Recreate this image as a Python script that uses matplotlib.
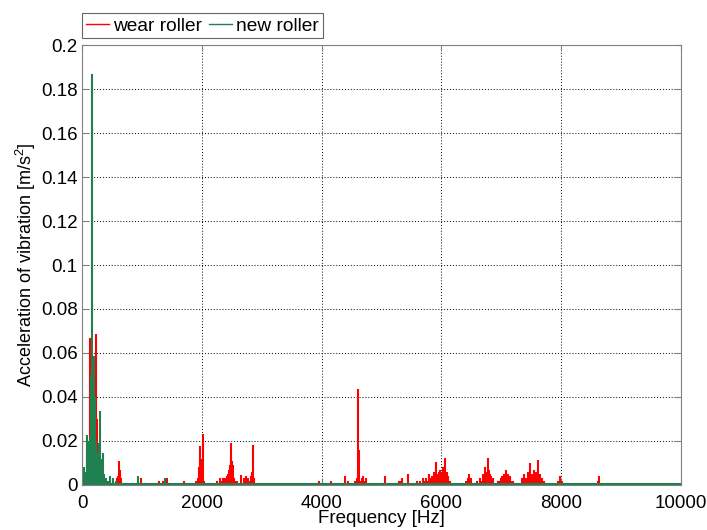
"""Vibration spectrum: wear roller vs new roller."""

import matplotlib

matplotlib.use("Agg")
import matplotlib.pyplot as plt
from matplotlib.ticker import FormatStrFormatter

# wear roller spectrum peaks (Hz, m/s^2)
wear_freq = [
    100, 120, 133, 150, 170, 185, 200, 215, 228, 245, 260, 280,
    585, 600, 617, 633, 650, 700, 980, 1100, 1200, 1280, 1350, 1380, 1400,
    1420, 1450, 1700, 1750,
    1880, 1900, 1920, 1940, 1960, 1972, 1985, 2000, 2015, 2028, 2045, 2070, 2100,
    2200, 2250, 2280, 2300, 2330, 2360, 2380, 2400, 2420, 2440, 2455, 2470, 2480,
    2494, 2505, 2515, 2525, 2540, 2560, 2580, 2620, 2650, 2700, 2720, 2740, 2760,
    2780, 2800, 2820, 2835, 2850, 2870, 2900,
    3100, 3300, 3500, 3950, 4000, 4150, 4250, 4390, 4450, 4530, 4560, 4590, 4600,
    4612, 4625, 4650, 4680, 4700, 4720, 4750, 4800, 4900, 5000, 5060,
    5150, 5300, 5330, 5350, 5420, 5450, 5500, 5600, 5650, 5700, 5730, 5750, 5780,
    5800, 5830, 5850, 5880, 5900, 5912, 5925, 5940, 5955, 5970, 5985, 6000, 6015,
    6030, 6045, 6062, 6075, 6090, 6105, 6120, 6150, 6180, 6250,
    6400, 6420, 6445, 6467, 6485, 6500, 6550, 6600, 6630, 6650, 6680, 6700, 6715,
    6730, 6745, 6760, 6783, 6800, 6815, 6830, 6860, 6900, 6950, 6980, 7000, 7020,
    7040, 7060, 7078, 7095, 7110, 7130, 7150, 7175, 7200,
    7300, 7350, 7380, 7400, 7420, 7450, 7465, 7483, 7495, 7510, 7530, 7550, 7565,
    7580, 7600, 7617, 7630, 7640, 7660, 7680, 7720, 7760, 7800, 7900, 7950, 7990,
    8020, 8100,
    8300, 8400, 8600, 8620, 8635, 8660, 9000, 9400,
]
wear_amp = [
    0.005, 0.010, 0.067, 0.016, 0.004, 0.006, 0.020, 0.012, 0.0687, 0.030, 0.010, 0.004,
    0.003, 0.004, 0.011, 0.007, 0.003, 0.001, 0.003, 0.001, 0.001, 0.002, 0.002, 0.002, 0.002,
    0.003, 0.001, 0.002, 0.001,
    0.001, 0.002, 0.002, 0.003, 0.008, 0.0179, 0.012, 0.003, 0.002, 0.0232, 0.002, 0.001, 0.001,
    0.001, 0.002, 0.001, 0.003, 0.002, 0.003, 0.003, 0.002, 0.004, 0.005, 0.007, 0.009, 0.011,
    0.0189, 0.011, 0.009, 0.006, 0.003, 0.002, 0.002, 0.001, 0.0047, 0.003, 0.002, 0.004, 0.002,
    0.003, 0.002, 0.004, 0.006, 0.0182, 0.003, 0.001,
    0.001, 0.001, 0.0005, 0.002, 0.001, 0.002, 0.001, 0.004, 0.002, 0.001, 0.002, 0.001, 0.003,
    0.0437, 0.016, 0.002, 0.003, 0.004, 0.002, 0.003, 0.001, 0.001, 0.001, 0.004,
    0.001, 0.002, 0.002, 0.003, 0.001, 0.005, 0.001, 0.002, 0.002, 0.003, 0.002, 0.003, 0.002,
    0.005, 0.003, 0.004, 0.006, 0.004, 0.0105, 0.004, 0.005, 0.006, 0.007, 0.004, 0.006, 0.005,
    0.008, 0.005, 0.0124, 0.004, 0.006, 0.003, 0.004, 0.002, 0.001, 0.001,
    0.001, 0.002, 0.003, 0.0048, 0.003, 0.003, 0.001, 0.002, 0.001, 0.003, 0.002, 0.005, 0.004,
    0.008, 0.005, 0.006, 0.0124, 0.007, 0.005, 0.004, 0.003, 0.001, 0.002, 0.002, 0.003, 0.004,
    0.005, 0.004, 0.007, 0.004, 0.005, 0.003, 0.004, 0.002, 0.002,
    0.001, 0.003, 0.005, 0.002, 0.003, 0.006, 0.004, 0.0098, 0.004, 0.005, 0.003, 0.007, 0.004,
    0.006, 0.004, 0.0114, 0.004, 0.005, 0.003, 0.003, 0.002, 0.001, 0.001, 0.001, 0.002, 0.0041,
    0.002, 0.001,
    0.0005, 0.0005, 0.001, 0.002, 0.0039, 0.001, 0.0003, 0.0003,
]

# new roller spectrum peaks (Hz, m/s^2)
new_freq = [
    0, 15, 30, 45, 60, 70, 80, 90, 100, 108, 115, 122, 130, 140, 150, 160, 167,
    175, 180, 190, 200, 208, 215, 222, 230, 240, 250, 265, 278, 290, 300, 310,
    320, 332, 345, 358, 370, 400, 430, 470, 520, 560, 600, 700, 800, 928, 1000,
    1150, 1380, 1500, 2500, 3500, 4300, 9600,
]
new_amp = [
    0.0515, 0.005, 0.008, 0.003, 0.004, 0.006, 0.015, 0.0228, 0.020, 0.012, 0.010,
    0.014, 0.018, 0.022, 0.050, 0.030, 0.187, 0.040, 0.052, 0.045, 0.0587, 0.035,
    0.040, 0.025, 0.020, 0.012, 0.015, 0.008, 0.019, 0.006, 0.0337, 0.012, 0.010,
    0.006, 0.0145, 0.004, 0.005, 0.003, 0.002, 0.004, 0.003, 0.002, 0.001, 0.001,
    0.001, 0.004, 0.001, 0.001, 0.003, 0.001, 0.0005, 0.0005, 0.0005, 0.0008,
]
new_floor = 0.0004

wear_color = "#ff0000"
new_color = "#1f8050"

plt.rcParams["font.family"] = ["Liberation Sans", "DejaVu Sans"]
plt.rcParams["mathtext.fontset"] = "custom"
plt.rcParams["mathtext.rm"] = "Liberation Sans"

fig = plt.figure(figsize=(7.07, 5.30), dpi=100)
ax = fig.add_axes([0.116, 0.085, 0.847, 0.830])

ax.vlines(wear_freq, 0, wear_amp, color=wear_color, lw=1.5)
ax.vlines(new_freq, 0, new_amp, color=new_color, lw=1.5)
ax.axhline(new_floor, color=new_color, lw=1.5)

# legend proxies
ax.plot([], [], color=wear_color, lw=1, label="wear roller")
ax.plot([], [], color=new_color, lw=1, label="new roller")

ax.set_xlim(0, 10000)
ax.set_ylim(0, 0.2)
ax.set_xticks(range(0, 10001, 2000))
ax.set_yticks([i * 0.02 for i in range(11)])
ax.yaxis.set_major_formatter(FormatStrFormatter("%g"))
ax.tick_params(direction="in", top=True, right=True, labelsize=13.5, length=4,
               color="#808080")
ax.tick_params(axis="y", pad=3)
ax.tick_params(axis="x", pad=7)
ax.grid(True, color="black", linestyle=(0, (1, 2)), lw=0.7)
for sp in ax.spines.values():
    sp.set_color("#808080")

ax.set_xlabel("Frequency [Hz]", fontsize=13.5, labelpad=-1)
ax.set_ylabel("Acceleration of vibration [m/s$^2$]", fontsize=13, labelpad=2)

leg = ax.legend(loc="lower left", bbox_to_anchor=(0.0, 1.015), ncol=2,
                fontsize=13.8, frameon=True, fancybox=False, borderpad=0.2,
                handlelength=1.2, handletextpad=0.2, columnspacing=0.4,
                borderaxespad=0.0)
leg.get_frame().set_edgecolor("#404040")
leg.get_frame().set_linewidth(0.8)

fig.savefig("out.png", dpi=100)
